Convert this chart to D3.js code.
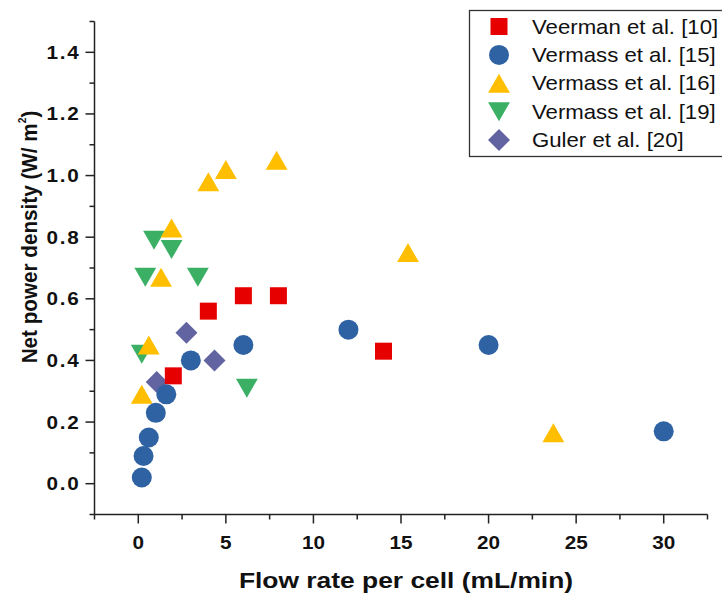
<!DOCTYPE html>
<html>
<head>
<meta charset="utf-8">
<script src="https://cdn.jsdelivr.net/npm/d3@7"></script>
<style>
  html, body { margin: 0; padding: 0; background: #fff; }
  svg { display: block; }
  text { font-family: "Liberation Sans", Arial, sans-serif; fill: #111; }
</style>
</head>
<body>
<svg id="chart" width="722" height="600"></svg>
<script>
// ---- data ----
const seriesNames = ["Veerman et al. [10]", "Vermass et al. [15]", "Vermass et al. [16]", "Vermass et al. [19]", "Guler et al. [20]"];
const veermanX = [2.0, 4.0, 6.0, 8.0, 14.0];
const veermanY = [0.35, 0.56, 0.61, 0.61, 0.43];
const vermass15X = [0.2, 0.3, 0.6, 1.0, 1.6, 3.0, 6.0, 12, 20, 30];
const vermass15Y = [0.02, 0.09, 0.15, 0.23, 0.29, 0.40, 0.45, 0.50, 0.45, 0.17];
const vermass16X = [0.2, 0.6, 1.3, 1.9, 4.0, 5.0, 7.9, 15.4, 23.7];
const vermass16Y = [0.29, 0.45, 0.67, 0.83, 0.98, 1.02, 1.05, 0.75, 0.165];
const vermass19X = [0.2, 0.4, 0.9, 1.9, 3.4, 6.2];
const vermass19Y = [0.42, 0.67, 0.79, 0.76, 0.67, 0.31];
const gulerX = [1.05, 2.75, 4.35];
const gulerY = [0.33, 0.49, 0.40];
const xTicks = [0, 5, 10, 15, 20, 25, 30];
const yTicks = [0.0, 0.2, 0.4, 0.6, 0.8, 1.0, 1.2, 1.4];

// ---- layout ----
const svg = d3.select("#chart");
const x = d3.scaleLinear().domain([-2.5, 32.5]).range([94.5, 707.5]);
const y = d3.scaleLinear().domain([-0.1, 1.5]).range([514.5, 21.5]);
const SX = 1.15; // horizontal glyph stretch of the reference text

// marker shapes (bbox centred)
const shapes = {
  square: s => `M${-s/2},${-s/2}h${s}v${s}h${-s}Z`,
  circle: s => { const r = s/2; return `M${r},0A${r},${r} 0 1,1 ${-r},0A${r},${r} 0 1,1 ${r},0Z`; },
  up: s => { const w = s*1.15/2, h = s/2; return `M0,${-h}L${w},${h}L${-w},${h}Z`; },
  down: s => { const w = s*1.15/2, h = s/2; return `M0,${h}L${w},${-h}L${-w},${-h}Z`; },
  diamond: s => { const h = s/2; return `M0,${-h}L${h},0L0,${h}L${-h},0Z`; }
};

const series = [
  { name: seriesNames[4], xs: gulerX, ys: gulerY, shape: "diamond", size: 22, color: "#6264a2" },
  { name: seriesNames[3], xs: vermass19X, ys: vermass19Y, shape: "down", size: 19, color: "#3bb065" },
  { name: seriesNames[2], xs: vermass16X, ys: vermass16Y, shape: "up", size: 19, color: "#ffbf00" },
  { name: seriesNames[0], xs: veermanX, ys: veermanY, shape: "square", size: 17, color: "#e60000" },
  { name: seriesNames[1], xs: vermass15X, ys: vermass15Y, shape: "circle", size: 20, color: "#2e62a2" }
];

// ---- data marks ----
series.forEach(s => {
  svg.append("g").selectAll("path")
    .data(s.xs.map((v, i) => [v, s.ys[i]]))
    .join("path")
    .attr("transform", d => `translate(${x(d[0])},${y(d[1])})`)
    .attr("d", shapes[s.shape](s.size))
    .attr("fill", s.color);
});

// ---- axes ----
const axisColor = "#222";
const gx = svg.append("g").attr("transform", `translate(0,${y(-0.1)})`);
gx.append("line").attr("x1", x(-2.5)).attr("x2", x(32.5)).attr("stroke", axisColor).attr("stroke-width", 1.5);
gx.selectAll(".major").data(xTicks).join("line")
  .attr("x1", d => x(d)).attr("x2", d => x(d)).attr("y1", 0).attr("y2", 9)
  .attr("stroke", axisColor).attr("stroke-width", 1.5);
gx.selectAll(".minor").data(d3.range(-2.5, 33, 5)).join("line")
  .attr("x1", d => x(d)).attr("x2", d => x(d)).attr("y1", 0).attr("y2", 5)
  .attr("stroke", axisColor).attr("stroke-width", 1.5);
gx.selectAll("text").data(xTicks).join("text")
  .attr("transform", d => `translate(${x(d)},34) scale(${SX},1)`)
  .attr("text-anchor", "middle")
  .attr("font-size", 18).attr("font-weight", "bold")
  .text(d => d);

const gy = svg.append("g").attr("transform", `translate(${x(-2.5)},0)`);
gy.append("line").attr("y1", y(-0.1)).attr("y2", y(1.5)).attr("stroke", axisColor).attr("stroke-width", 1.5);
gy.selectAll(".major").data(yTicks).join("line")
  .attr("y1", d => y(d)).attr("y2", d => y(d)).attr("x1", 0).attr("x2", -9)
  .attr("stroke", axisColor).attr("stroke-width", 1.5);
gy.selectAll(".minor").data(d3.range(-0.1, 1.55, 0.2)).join("line")
  .attr("y1", d => y(d)).attr("y2", d => y(d)).attr("x1", 0).attr("x2", -5)
  .attr("stroke", axisColor).attr("stroke-width", 1.5);
gy.selectAll("text").data(yTicks).join("text")
  .attr("transform", d => `translate(-14,${y(d) + 6.5}) scale(${SX},1)`)
  .attr("text-anchor", "end")
  .attr("font-size", 18).attr("font-weight", "bold")
  .attr("letter-spacing", 1.5)
  .text(d => d.toFixed(1));

// ---- axis titles ----
svg.append("text")
  .attr("transform", `translate(406,588) scale(1.2,1)`)
  .attr("text-anchor", "middle")
  .attr("font-size", 22).attr("font-weight", "bold")
  .text("Flow rate per cell (mL/min)");

const yt = svg.append("text")
  .attr("transform", `translate(37,237) rotate(-90) scale(0.94,1)`)
  .attr("text-anchor", "middle")
  .attr("font-size", 22).attr("font-weight", "bold");
yt.append("tspan").text("Net power density (W/ m");
yt.append("tspan").attr("font-size", 11).attr("dy", -11).text("2");
yt.append("tspan").attr("dy", 11).text(")");

// ---- legend ----
const legendOrder = [3, 4, 2, 1, 0];
const lg = svg.append("g");
lg.append("rect").attr("x", 469.5).attr("y", 10.5).attr("width", 270).attr("height", 146)
  .attr("fill", "#fff").attr("stroke", "#333").attr("stroke-width", 1.3);
legendOrder.forEach((si, i) => {
  const s = series[si];
  const cy = 26.5 + i * 28.4;
  lg.append("path").attr("transform", `translate(499,${cy})`).attr("d", shapes[s.shape](s.size)).attr("fill", s.color);
  lg.append("text")
    .attr("transform", `translate(532,${cy + 7}) scale(1.11,1)`)
    .attr("font-size", 20)
    .text(s.name);
});
</script>
</body>
</html>
